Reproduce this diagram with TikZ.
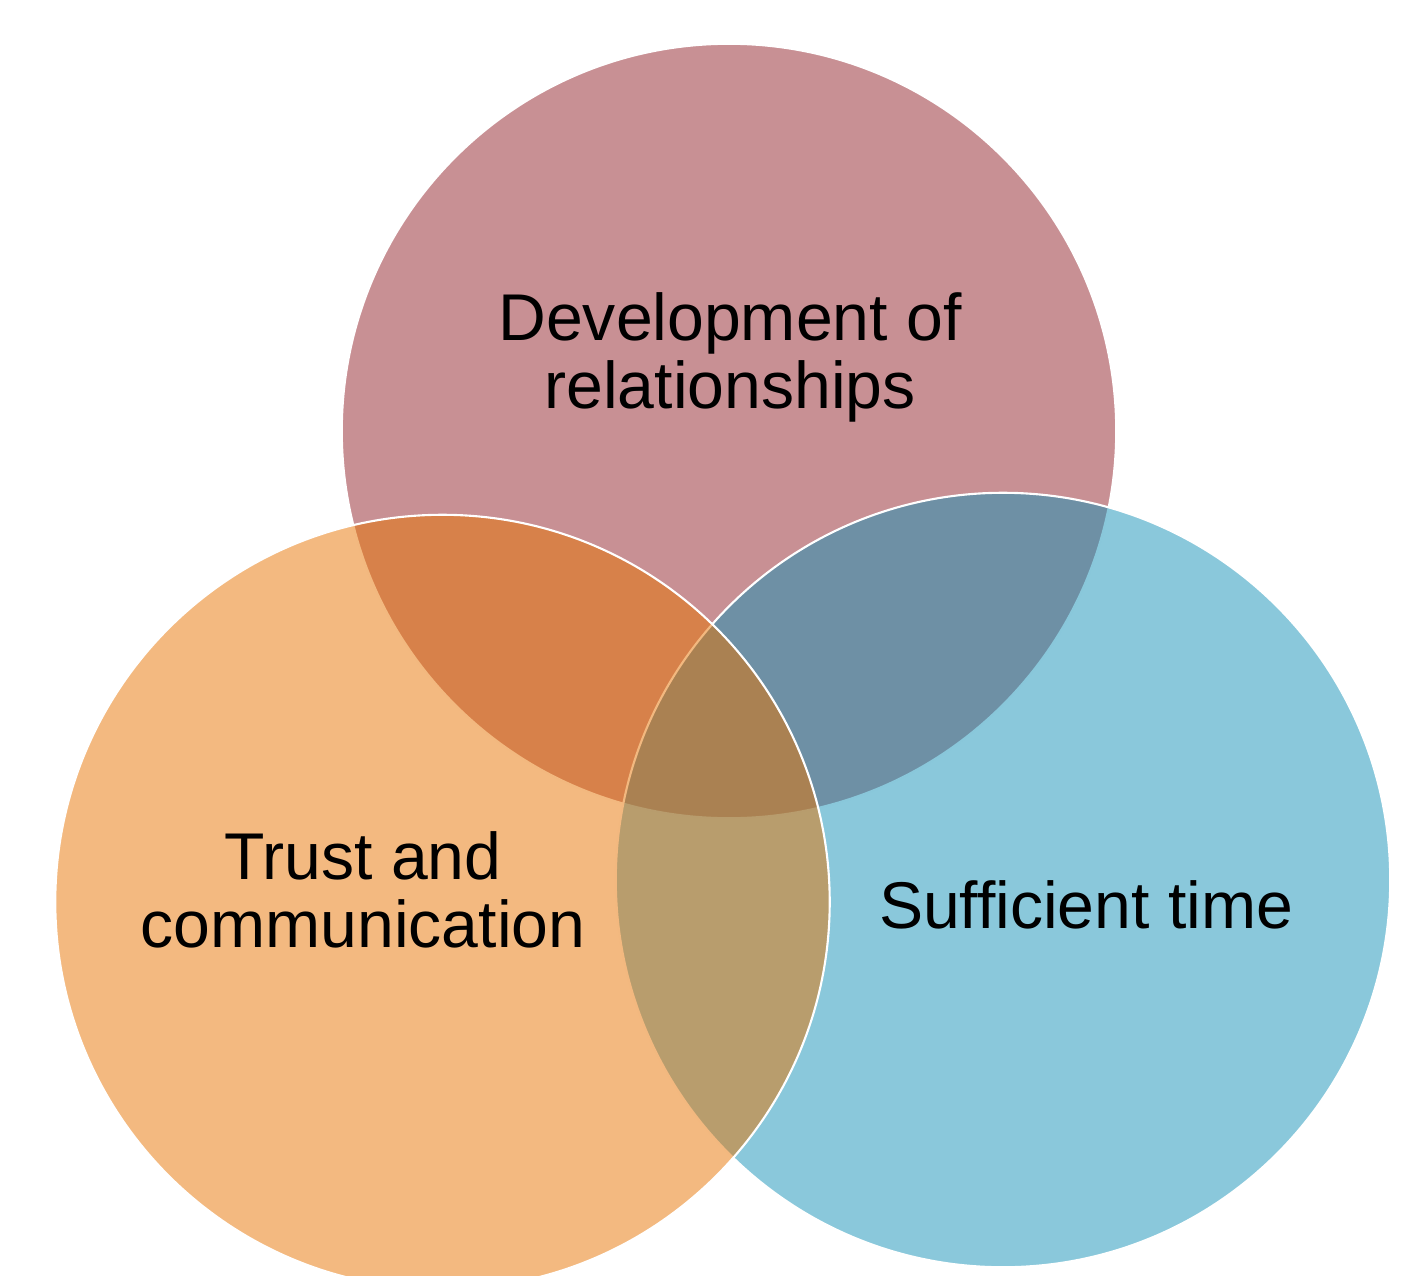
\documentclass[tikz,border=0pt]{standalone}
\usepackage{fontspec}
\setmainfont{Liberation Sans}
\definecolor{cTop}{RGB}{145,33,41}
\definecolor{cRight}{RGB}{21,145,183}
\definecolor{cLeft}{RGB}{231,115,1}
\begin{document}
\begin{tikzpicture}[x=0.01cm,y=-0.01cm,
  venn/.style={circle, draw=white, line width=0.6pt, fill opacity=0.5, draw opacity=1, minimum size=7.74cm, inner sep=0pt},
  label/.style={text=black, align=center, font=\fontsize{18.8pt}{19.35pt}\selectfont, inner sep=0pt}]
\useasboundingbox (0,0) rectangle (1412,1276);
\node[venn, fill=cTop] (top) at (729,431) {};
\node[venn, fill=cRight] (right) at (1003,880) {};
\node[venn, fill=cLeft] (left) at (442.5,902) {};
\node[label] (ltop) at (730,357) {Development of\\relationships};
\node[label] (lleft) at (363,890) {Trust and\\communication};
\node[label, anchor=base] (lright) at (1086,928) {Sufficient time};
\end{tikzpicture}
\end{document}
